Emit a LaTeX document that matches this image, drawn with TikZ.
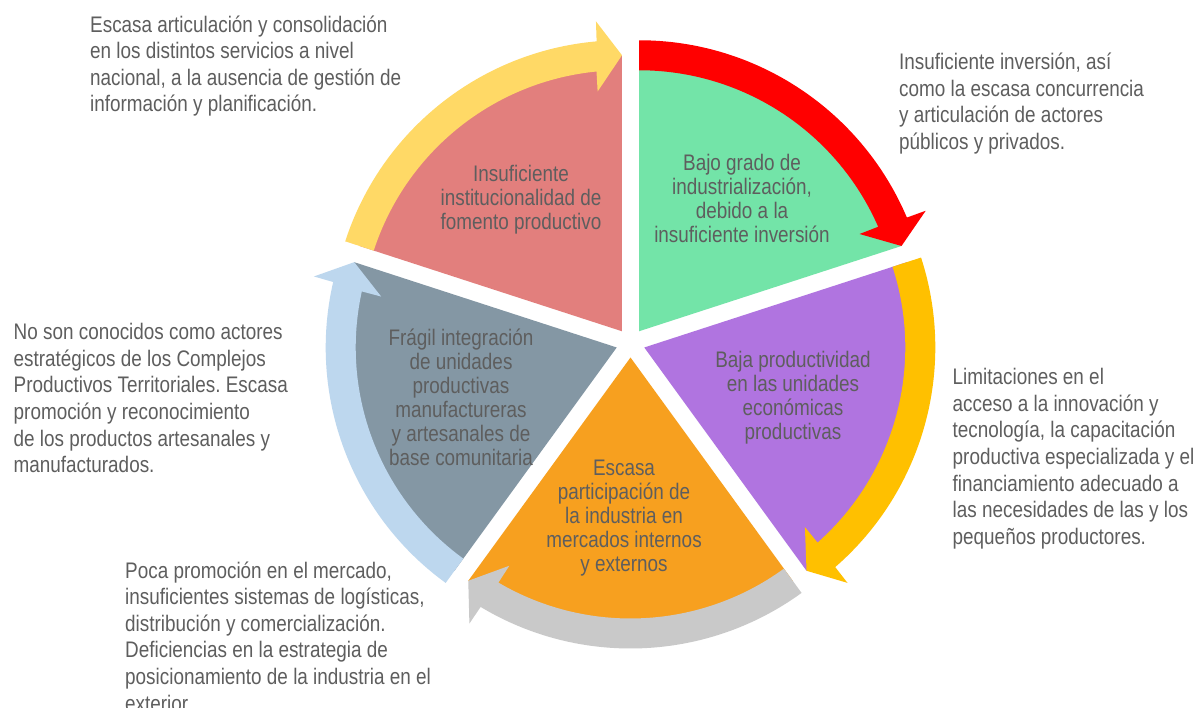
\documentclass[tikz,border=0pt]{standalone}
\usepackage{fontspec}
\setmainfont{Liberation Sans}[FakeStretch=0.84]
\usetikzlibrary{calc}
\frenchspacing
\definecolor{cRed}{HTML}{E27F7D}
\definecolor{cGreen}{HTML}{73E4A8}
\definecolor{cPurple}{HTML}{B074E0}
\definecolor{cOrange}{HTML}{F7A01F}
\definecolor{cGray}{HTML}{8497A4}
\definecolor{aRed}{HTML}{FF0000}
\definecolor{aGold}{HTML}{FFC000}
\definecolor{aGray}{HTML}{C9C9C9}
\definecolor{aBlue}{HTML}{BDD7EE}
\definecolor{aYellow}{HTML}{FFD966}
\definecolor{txt}{HTML}{5E5E5E}
\newcommand{\fl}{\rule{0pt}{22pt}}
% #1 centre, #2 clockwise-end angle, #3 slice colour, #4 arrow colour
\newcommand{\segmentwitharrow}[4]{%
  \begin{scope}[shift={(#1)}]
    \fill[#3] (0,0) -- (#2:276pt) arc[start angle=#2, end angle=#2+72, radius=276pt] -- cycle;
    \fill[#4] (#2+72:291pt) arc[start angle=#2+72, end angle=#2+5, radius=291pt]
      -- (#2+4.8:311pt) -- (#2:276pt) -- (#2+5.8:241pt) -- (#2+5.6:261pt)
      arc[start angle=#2+5.6, end angle=#2+72, radius=261pt] -- cycle;
  \end{scope}}
\begin{document}
\begin{tikzpicture}[x=1pt,y=1pt,
  slicetext/.style={align=center, text=txt, inner sep=0pt, font=\fontsize{22.5}{24}\selectfont\frenchspacing},
  sidetext/.style={align=left, text=txt, inner sep=0pt, anchor=north west, font=\fontsize{22.5}{26.6}\selectfont\frenchspacing}]
\useasboundingbox (0,0) rectangle (1194,708);
\fill[white] (0,0) rectangle (1194,708);
\coordinate (C) at (630.5,365);
\coordinate (cR) at ($(C)+(126:14.5pt)$);
\coordinate (cG) at ($(C)+(54:14.5pt)$);
\coordinate (cP) at ($(C)+(-18:14.5pt)$);
\coordinate (cO) at ($(C)+(-90:14.5pt)$);
\coordinate (cB) at ($(C)+(198:14.5pt)$);
\segmentwitharrow{cR}{90}{cRed}{aYellow}
\segmentwitharrow{cG}{18}{cGreen}{aRed}
\segmentwitharrow{cP}{-54}{cPurple}{aGold}
\segmentwitharrow{cO}{-126}{cOrange}{aGray}
\segmentwitharrow{cB}{162}{cGray}{aBlue}
% slice labels
\node[slicetext] (tR) at (521,708-200) {Insuficiente\\institucionalidad de\\fomento productivo};
\node[slicetext] (tG) at (742,708-198) {Bajo grado de\\industrialización,\\debido a la\\insuficiente inversión};
\node[slicetext] (tP) at (793,708-398) {Baja productividad\\en las unidades\\económicas\\productivas};
\node[slicetext] (tO) at (624,708-518) {Escasa\\participación de\\la industria en\\mercados internos\\y externos};
\node[slicetext] (tB) at (461,708-397) {Frágil integración\\de unidades\\productivas\\manufactureras\\y artesanales de\\base comunitaria};
% side texts
\node[sidetext] (sTL) at (90,708-10) {\fl Escasa articulación y consolidación\\en los distintos servicios a nivel\\nacional, a la ausencia de gestión de\\información y planificación.};
\node[sidetext] (sTR) at (899,708-47.5) {\fl Insuficiente inversión, así\\como la escasa concurrencia\\y articulación de actores\\públicos y privados.};
\node[sidetext] (sR) at (952.5,708-362.5) {\fl Limitaciones en el\\acceso a la innovación y\\tecnología, la capacitación\\productiva especializada y el\\financiamiento adecuado a\\las necesidades de las y los\\pequeños productores.};
\node[sidetext] (sL) at (13.5,708-317.5) {\fl No son conocidos como actores\\estratégicos de los Complejos\\Productivos Territoriales. Escasa\\promoción y reconocimiento\\de los productos artesanales y\\manufacturados.};
\node[sidetext] (sBL) at (125,708-556) {\fl Poca promoción en el mercado,\\insuficientes sistemas de logísticas,\\distribución y comercialización.\\Deficiencias en la estrategia de\\posicionamiento de la industria en el\\exterior.};
\end{tikzpicture}
\end{document}
